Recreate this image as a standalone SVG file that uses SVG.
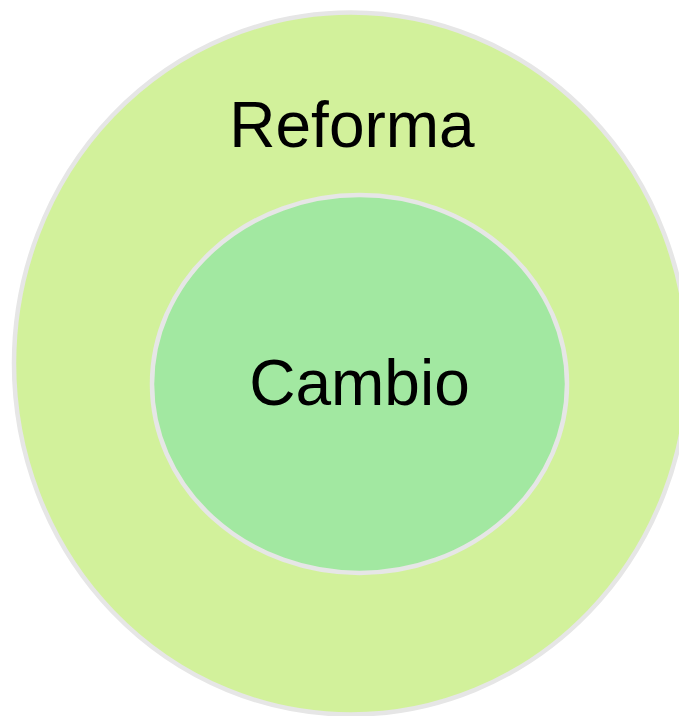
<svg xmlns="http://www.w3.org/2000/svg" width="679" height="716" viewBox="0 0 679 716">
<style>
.shape{stroke:#e6e6e6;stroke-width:4.5}
.lbl{font-family:"Liberation Sans",Arial,sans-serif;font-size:64px;fill:#000;text-anchor:middle}
</style>
<g id="reforma">
<ellipse class="shape" cx="351" cy="363.5" rx="337" ry="351" fill="#d2f19b"/>
<text class="lbl" x="352" y="147">Reforma</text>
</g>
<g id="cambio">
<ellipse class="shape" cx="359.5" cy="384" rx="207.5" ry="189" fill="#a2e8a1"/>
<text class="lbl" x="359.5" y="405">Cambio</text>
</g>
<g id="connectors"></g>
</svg>
